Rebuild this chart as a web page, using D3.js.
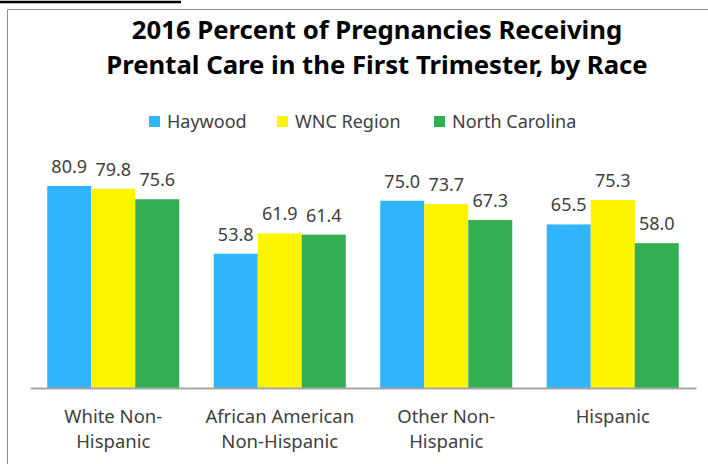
<!DOCTYPE html>
<html>
<head>
<meta charset="utf-8">
<script src="https://cdn.jsdelivr.net/npm/d3@7"></script>
<style>
  body { margin: 0; background: #fff; }
  svg { display: block; font-family: "Noto Sans", "Open Sans", sans-serif; }
</style>
</head>
<body>
<svg id="chart" width="708" height="464"></svg>
<script>
// chart values
const categories = [
  ["White Non-", "Hispanic"],
  ["African American", "Non-Hispanic"],
  ["Other Non-", "Hispanic"],
  ["Hispanic"]
];
const seriesNames = ["Haywood", "WNC Region", "North Carolina"];
const haywood = [80.9, 53.8, 75.0, 65.5];
const wncRegion = [79.8, 61.9, 73.7, 75.3];
const northCarolina = [75.6, 61.4, 67.3, 58.0];
const titleLines = ["2016 Percent of Pregnancies Receiving", "Prental Care in the First Trimester, by Race"];

const colors = ["#30b4fc", "#fcf400", "#34ae52"];
const values = [haywood, wncRegion, northCarolina];

const width = 708;
const height = 464;
const baseY = 388;

const svg = d3.select("#chart");

// snippet of the page above the chart (cut off)
svg.append("line")
  .attr("x1", 0).attr("x2", 181).attr("y1", 2).attr("y2", 2)
  .attr("stroke", "#000").attr("stroke-width", 2.5);

// chart frame (left + top edge visible)
svg.append("path")
  .attr("d", "M7.5,464 L7.5,9.5 L708,9.5")
  .attr("fill", "none")
  .attr("stroke", "#8c8c8c")
  .attr("stroke-width", 1);

// title
svg.append("g").selectAll("text")
  .data(titleLines)
  .join("text")
    .attr("x", 377)
    .attr("y", (d, i) => 39 + i * 35)
    .attr("text-anchor", "middle")
    .attr("font-size", 25.7)
    .attr("font-weight", "bold")
    .attr("fill", "#000")
    .text(d => d);

// scales
const idx = categories.map((d, i) => i);
const x0 = d3.scaleBand().domain(idx).range([30, 696]).paddingInner(0.207).paddingOuter(0.1035);
const x1 = d3.scaleBand().domain([0, 1, 2]).range([0, x0.bandwidth()]);
const y = d3.scaleLinear().domain([0, 90]).range([baseY, baseY - 90 * 2.497]);

// legend
const legendX = [149, 277, 434];
const legend = svg.append("g").selectAll("g")
  .data(seriesNames)
  .join("g")
    .attr("transform", (d, i) => "translate(" + legendX[i] + ",116)");
legend.append("rect")
  .attr("width", 11).attr("height", 11)
  .attr("fill", (d, i) => colors[i]);
legend.append("text")
  .attr("x", 18).attr("y", 11.5)
  .attr("font-size", 18)
  .attr("fill", "#404040")
  .text(d => d);

// bars
const groups = svg.append("g").selectAll("g")
  .data(idx)
  .join("g")
    .attr("transform", d => "translate(" + x0(d) + ",0)");

groups.selectAll("rect")
  .data(c => values.map((s, si) => ({ s: si, v: s[c] })))
  .join("rect")
    .attr("x", d => x1(d.s))
    .attr("width", x1.bandwidth())
    .attr("y", d => y(d.v))
    .attr("height", d => baseY - y(d.v))
    .attr("fill", d => colors[d.s]);

groups.selectAll("text.val")
  .data(c => values.map((s, si) => ({ s: si, v: s[c] })))
  .join("text")
    .attr("class", "val")
    .attr("x", d => x1(d.s) + x1.bandwidth() / 2)
    .attr("y", d => y(d.v) - 13)
    .attr("text-anchor", "middle")
    .attr("font-size", 18)
    .attr("fill", "#404040")
    .text(d => d.v.toFixed(1));

// x axis
const xAxis = svg.append("g")
  .attr("transform", "translate(0," + baseY + ")")
  .call(d3.axisBottom(x0).tickSize(0).tickFormat(""));
xAxis.select(".domain").attr("stroke", "#a6a6a6").attr("stroke-width", 2);

xAxis.selectAll(".tick").each(function (d) {
  d3.select(this).select("text").remove();
  d3.select(this).selectAll("text.cat")
    .data(categories[d])
    .join("text")
      .attr("class", "cat")
      .attr("y", (t, i) => 35 + i * 24.5)
      .attr("text-anchor", "middle")
      .attr("font-size", 18.5)
      .attr("fill", "#404040")
      .attr("font-family", "Noto Sans, Open Sans, sans-serif")
      .text(t => t);
});
</script>
</body>
</html>
